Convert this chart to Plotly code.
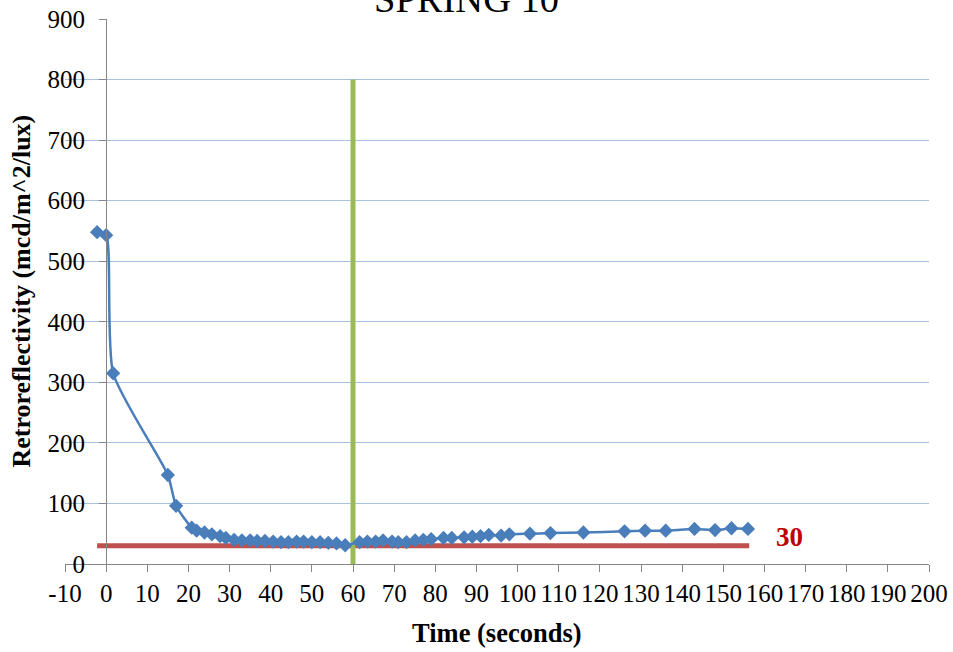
import plotly.graph_objects as go

# ---- data ----
time_s = [-2.2, 0.0, 1.7, 15.0, 17.0, 20.8, 22.0, 23.9, 25.7, 27.7, 29.1,
          31.1, 33.0, 35.0, 36.7, 38.6, 40.6, 42.5, 44.3, 46.3, 48.0, 50.0,
          52.0, 54.0, 56.0, 58.1,
          61.6, 63.5, 65.5, 67.3, 69.5, 71.0, 73.0, 75.1, 77.1, 79.0, 82.0,
          84.0, 87.0, 89.0, 91.0, 93.0, 96.0, 98.0,
          103.0, 108.0, 116.0, 126.0, 131.0, 136.0, 143.0, 148.0, 152.0, 156.0]
retro = [548, 543, 315, 147, 96, 60, 55, 52, 49, 46, 43,
         40, 39, 39, 38, 38, 37, 36, 36, 37, 37, 36,
         36, 35, 34, 31,
         36, 37, 37, 39, 37, 36, 36, 39, 40, 41, 43,
         43, 44, 45, 46, 48, 47, 49,
         50, 51, 52, 54, 55, 55, 58, 56, 59, 58]

threshold = 30
threshold_x = [-2.2, 156.3]
marker60_x = [60, 60]
marker60_y = [0, 800]

x_tick_vals = list(range(-10, 201, 10))
x_tick_text = [str(v) for v in x_tick_vals]
y_tick_vals = list(range(0, 901, 100))

title_text = "SPRING 10"
x_title = "Time (seconds)"
y_title = "Retroreflectivity (mcd/m^2/lux)"

FONT = "Liberation Serif"
AXIS_GRAY = "#868686"

fig = go.Figure()

fig.add_trace(go.Scatter(
    x=threshold_x, y=[threshold, threshold], mode="lines",
    line=dict(color="#C0504D", width=5), hoverinfo="skip", showlegend=False))

fig.add_trace(go.Scatter(
    x=marker60_x, y=marker60_y, mode="lines",
    line=dict(color="#9BBB59", width=5), hoverinfo="skip", showlegend=False))

fig.add_trace(go.Scatter(
    x=time_s, y=retro, mode="lines+markers",
    line=dict(color="#4A7EBB", width=2.5, shape="spline", smoothing=0.6),
    marker=dict(symbol="diamond", size=11, color="#4A7EBB"),
    showlegend=False))

fig.update_layout(
    width=953, height=652,
    margin=dict(l=65, r=24, t=19, b=88, autoexpand=False),
    paper_bgcolor="white", plot_bgcolor="white",
    font=dict(family=FONT, color="black", size=25),
    xaxis=dict(range=[-10, 200], tickmode="array", tickvals=x_tick_vals,
               ticktext=x_tick_text, tickangle=0, automargin=False,
               showgrid=False, zeroline=False, showline=True,
               linecolor=AXIS_GRAY, linewidth=1.3,
               ticks="outside", ticklen=7, tickcolor=AXIS_GRAY, tickwidth=1.3,
               tickfont=dict(family=FONT, size=25, color="black"),
               ticklabelstandoff=0),
    yaxis=dict(range=[0, 900], tickmode="array", tickvals=y_tick_vals,
               anchor="free", position=10 / 210, automargin=False,
               showgrid=True, gridcolor="#A7C0E4", gridwidth=1.3,
               zeroline=False, showline=True,
               linecolor=AXIS_GRAY, linewidth=1.3,
               ticks="outside", ticklen=7, tickcolor=AXIS_GRAY, tickwidth=1.3,
               tickfont=dict(family=FONT, size=25, color="black"),
               ticklabelstandoff=9),
)

fig.add_annotation(text=title_text, xref="paper", yref="paper",
                   x=(466.5 - 65) / 864, y=(564 - 22) / 545,
                   xanchor="center", yanchor="bottom", showarrow=False,
                   font=dict(family=FONT, size=38.5, color="black"))
fig.add_annotation(text="<b>" + y_title + "</b>", xref="paper", yref="paper",
                   x=(21 - 65) / 864, y=0.5, textangle=-90,
                   xanchor="center", yanchor="middle", showarrow=False,
                   font=dict(family=FONT, size=26, color="black"))
fig.add_annotation(text="<b>" + x_title + "</b>", xref="paper", yref="paper",
                   x=0.5, y=(564 - 633) / 545,
                   xanchor="center", yanchor="middle", showarrow=False,
                   font=dict(family=FONT, size=26.5, color="black"))
fig.add_annotation(text="<b>" + str(threshold) + "</b>", xref="x", yref="y",
                   x=166.2, y=44.6, xanchor="center", yanchor="middle",
                   showarrow=False,
                   font=dict(family=FONT, size=27, color="#C00000"))

fig.write_html("out.html",
               config={"displayModeBar": False},
               post_script="document.body.style.margin='0';"
                           "document.body.style.padding='0';")
